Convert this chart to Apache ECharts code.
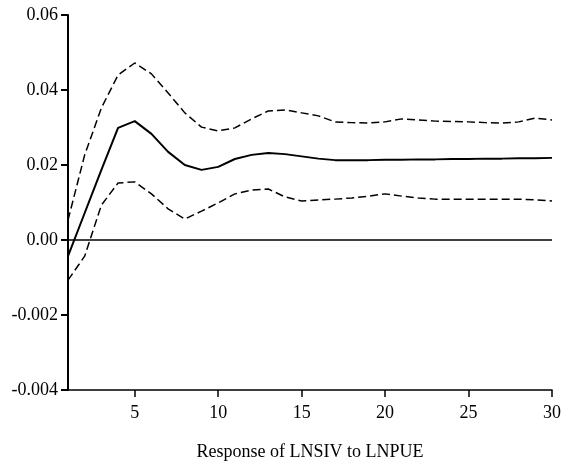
<!DOCTYPE html>
<html>
<head>
<meta charset="utf-8">
<script src="https://cdn.jsdelivr.net/npm/echarts@6/dist/echarts.min.js"></script>
<style>
  html, body { margin: 0; padding: 0; background: #fff; }
  #chart { width: 564px; height: 464px; }
</style>
</head>
<body>
<div id="chart"></div>
<script>
// periods 1..30
const periods = [];
for (let i = 1; i <= 30; i++) periods.push(i);

// impulse response (solid)
const response = [-0.0043, 0.0072, 0.0187, 0.0299, 0.0317, 0.0283, 0.0235, 0.0200, 0.0187, 0.0195,
  0.0216, 0.0227, 0.0232, 0.0229, 0.0223, 0.0217, 0.0213, 0.0213, 0.0213, 0.0214,
  0.0214, 0.0215, 0.0215, 0.0216, 0.0216, 0.0217, 0.0217, 0.0218, 0.0218, 0.0219];

// upper band (dashed)
const upper = [0.0053, 0.0227, 0.0352, 0.0440, 0.0472, 0.0443, 0.0392, 0.0339, 0.0301, 0.0291,
  0.0299, 0.0323, 0.0344, 0.0347, 0.0339, 0.0331, 0.0315, 0.0313, 0.0312, 0.0315,
  0.0323, 0.0320, 0.0317, 0.0316, 0.0315, 0.0313, 0.0312, 0.0315, 0.0325, 0.0320];

// lower band (dashed)
const lower = [-0.0107, -0.0043, 0.0093, 0.0152, 0.0155, 0.0123, 0.0083, 0.0056, 0.0077, 0.0099,
  0.0123, 0.0133, 0.0136, 0.0115, 0.0104, 0.0107, 0.0109, 0.0112, 0.0117, 0.0123,
  0.0117, 0.0112, 0.0109, 0.0109, 0.0109, 0.0109, 0.0109, 0.0109, 0.0107, 0.0104];

const xTicks = [5, 10, 15, 20, 25, 30];
// tick labels as printed on the original
const yLabels = ['-0.004', '-0.002', '0.00', '0.02', '0.04', '0.06'];

const pairs = arr => arr.map((v, i) => [periods[i], v]);

const chart = echarts.init(document.getElementById('chart'));

const font = '"Liberation Serif", "Times New Roman", serif';

const option = {
  backgroundColor: '#fff',
  animation: false,
  grid: { left: 68, right: 12, top: 15, bottom: 74, outerBoundsMode: 'none' },
  xAxis: {
    type: 'value',
    min: 1,
    max: 30,
    name: 'Response of LNSIV to LNPUE',
    nameLocation: 'middle',
    nameGap: 53,
    nameTextStyle: { fontFamily: font, fontSize: 18, color: '#000' },
    splitLine: { show: false },
    axisLine: { onZero: false, lineStyle: { color: '#000', width: 1.5 } },
    axisTick: { customValues: xTicks, length: 7, lineStyle: { color: '#000', width: 1.5 } },
    axisLabel: { customValues: xTicks, margin: 14, fontFamily: font, fontSize: 18, color: '#000' }
  },
  yAxis: {
    type: 'value',
    min: -0.04,
    max: 0.06,
    interval: 0.02,
    splitLine: { show: false },
    axisLine: { show: true, lineStyle: { color: '#000', width: 2 } },
    axisTick: { show: true, length: 7, lineStyle: { color: '#000', width: 2 } },
    axisLabel: {
      margin: 10,
      fontFamily: font,
      fontSize: 18,
      color: '#000',
      formatter: (v, idx) => yLabels[idx]
    }
  },
  series: [
    {
      name: 'Response',
      type: 'line',
      data: pairs(response),
      showSymbol: false,
      lineStyle: { color: '#000', width: 2 },
      markLine: {
        silent: true,
        symbol: 'none',
        label: { show: false },
        lineStyle: { color: '#000', width: 1.5, type: 'solid' },
        data: [{ yAxis: 0 }]
      }
    },
    {
      name: 'Upper',
      type: 'line',
      data: pairs(upper),
      showSymbol: false,
      lineStyle: { color: '#000', width: 1.5, type: [8, 4] }
    },
    {
      name: 'Lower',
      type: 'line',
      data: pairs(lower),
      showSymbol: false,
      lineStyle: { color: '#000', width: 1.5, type: [8, 4] }
    }
  ]
};

chart.setOption(option);
</script>
</body>
</html>
